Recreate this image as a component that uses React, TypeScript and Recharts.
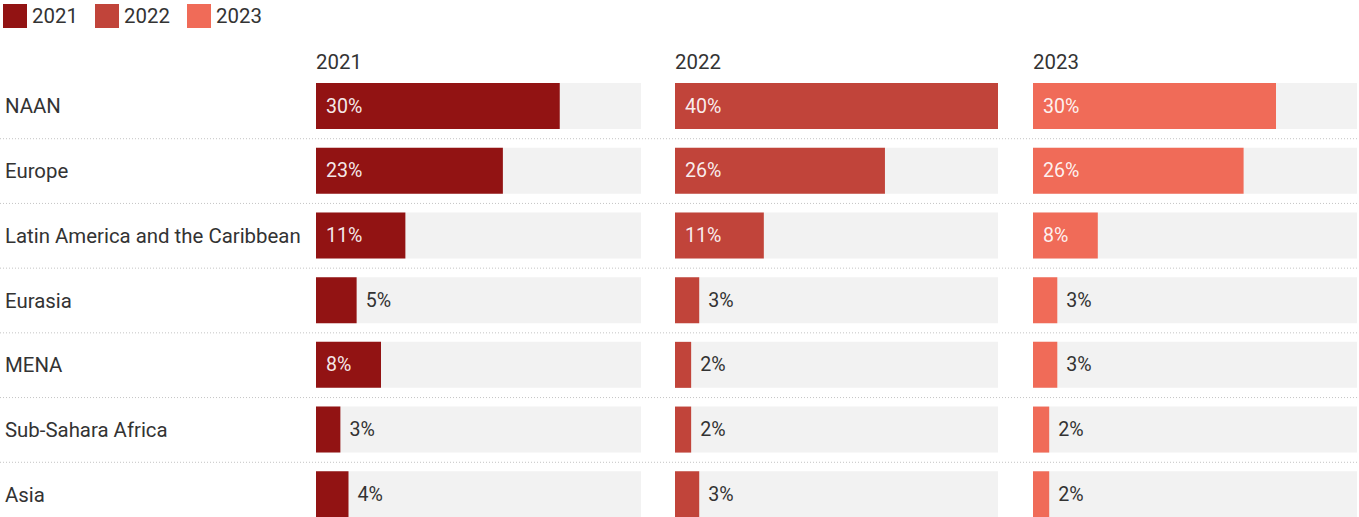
import React from 'react';
import { BarChart, Bar, XAxis, YAxis, LabelList } from 'recharts';

const REGIONS = ['NAAN', 'Europe', 'Latin America and the Caribbean', 'Eurasia', 'MENA', 'Sub-Sahara Africa', 'Asia'];
const YEARS = ['2021', '2022', '2023'];
const SHARE_2021 = [30, 23, 11, 5, 8, 3, 4];
const SHARE_2022 = [40, 26, 11, 3, 2, 2, 3];
const SHARE_2023 = [30, 26, 8, 3, 3, 2, 2];
const COLORS = ['#921313', '#c1443a', '#f06b58'];
const MAX_SHARE = 40;

const rows = REGIONS.map((region, i) => ({
  region,
  y2021: SHARE_2021[i],
  y2022: SHARE_2022[i],
  y2023: SHARE_2023[i],
}));
const KEYS = ['y2021', 'y2022', 'y2023'];

const FONT = 'Roboto, sans-serif';
const TEXT = '#333';
const W = 1359;
const TOP = 74;
const H = 453;
const PANEL_LEFT = [316, 675, 1033];
const PANEL_W = [325, 323, 324];

const RegionTick = (props: any) => {
  const { y, payload, index } = props;
  const half = H / REGIONS.length / 2;
  return (
    <g>
      {index > 0 && (
        <line x1={0} x2={W} y1={y - half} y2={y - half} stroke="#c4c4c4" strokeDasharray="1 2" />
      )}
      <text x={5} y={y} dominantBaseline="central" fontSize={20.4} fill={TEXT} fontFamily={FONT}>
        {payload.value}
      </text>
    </g>
  );
};

const ValueLabel = (props: any) => {
  const { x, y, width, height, value } = props;
  const inside = value >= 8;
  return (
    <text
      x={inside ? x + 10 : x + width + 9}
      y={y + height / 2}
      dominantBaseline="central"
      fontSize={19.6}
      fill={inside ? '#fff' : TEXT}
      fillOpacity={inside ? 0.92 : 1}
      fontFamily={FONT}
    >
      {value}%
    </text>
  );
};

export default function App() {
  return (
    <div style={{ position: 'absolute', left: 0, top: 0, width: W, height: 517, overflow: 'hidden', background: '#fff', fontFamily: FONT, color: TEXT }}>
      {YEARS.map((yr, i) => (
        <React.Fragment key={yr}>
          <div style={{ position: 'absolute', left: 3 + i * 92, top: 4, width: 24, height: 24, background: COLORS[i] }} />
          <div style={{ position: 'absolute', left: 32 + i * 92, top: 4, fontSize: 20.4 }}>{yr}</div>
          <div style={{ position: 'absolute', left: PANEL_LEFT[i], top: 50, fontSize: 20.4 }}>{yr}</div>
        </React.Fragment>
      ))}

      <div style={{ position: 'absolute', left: 0, top: TOP }}>
        <BarChart width={W} height={H} data={rows} layout="vertical" margin={{ top: 0, right: 0, bottom: 0, left: 0 }}>
          <XAxis type="number" domain={[0, MAX_SHARE]} hide />
          <YAxis type="category" dataKey="region" width={316} axisLine={false} tickLine={false} tick={<RegionTick />} interval={0} />
          <Bar dataKey="y2021" fill="none" isAnimationActive={false} />
        </BarChart>
      </div>

      {KEYS.map((key, i) => (
        <div key={key} style={{ position: 'absolute', left: PANEL_LEFT[i], top: TOP }}>
          <BarChart width={PANEL_W[i]} height={H} data={rows} layout="vertical" margin={{ top: 0, right: 0, bottom: 0, left: 0 }}>
            <XAxis type="number" domain={[0, MAX_SHARE]} hide />
            <YAxis type="category" dataKey="region" hide />
            <Bar dataKey={key} fill={COLORS[i]} barSize={46} background={{ fill: '#f2f2f2' }} isAnimationActive={false}>
              <LabelList dataKey={key} content={<ValueLabel />} />
            </Bar>
          </BarChart>
        </div>
      ))}
    </div>
  );
}
